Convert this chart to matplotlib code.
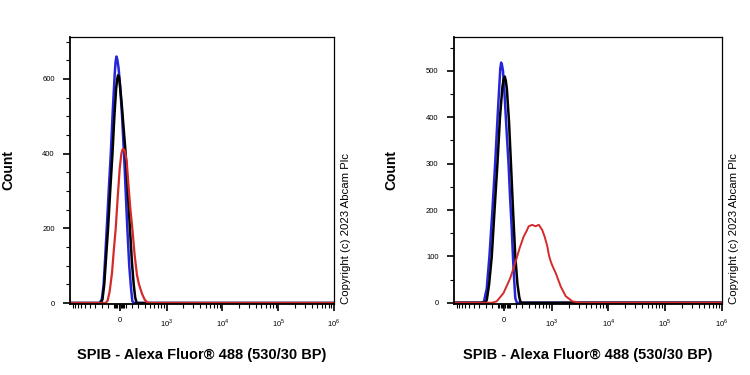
import matplotlib.pyplot as plt
from matplotlib.ticker import FixedLocator, NullFormatter

plt.rcParams['font.family'] = ['Liberation Sans', 'DejaVu Sans']
plt.rcParams['mathtext.fontset'] = 'custom'
plt.rcParams['mathtext.rm'] = 'Liberation Sans'

# ---- left panel data (fluorescence, count) ----
left_blue_x = [-1120, -330, -300, -270, -245, -218, -185, -150, -115, -85, -70, -55, -40,
               -20, 0, 40, 72, 100, 128, 160, 190, 212, 240, 1e6]
left_blue_y = [0, 0, 10, 50, 120, 200, 300, 400, 520, 610, 645, 660, 652,
               630, 595, 500, 400, 300, 200, 100, 40, 5, 0, 0]

left_black_x = [-1120, -310, -290, -260, -230, -196, -160, -122, -90, -60, -42, -28, -12, 0,
                30, 65, 100, 135, 172, 205, 235, 260, 285, 1e6]
left_black_y = [0, 0, 10, 50, 120, 200, 300, 400, 500, 575, 600, 610, 605, 590,
                540, 470, 400, 300, 200, 110, 50, 15, 0, 0]

left_red_x = [-1120, -240, -206, -170, -130, -100, -67, -35, 0, 28, 45, 61, 78, 90, 117,
              150, 180, 212, 250, 290, 318, 360, 400, 443, 500, 1e6]
left_red_y = [0, 0, 5, 30, 80, 140, 200, 280, 360, 400, 410, 413, 410, 405, 380,
              310, 250, 200, 130, 75, 50, 25, 10, 2, 0, 0]

# ---- right panel data ----
right_blue_x = [-1120, -360, -327, -290, -245, -200, -150, -110, -80, -65, -50, -35, -20, 10,
                40, 72, 100, 125, 145, 165, 184, 210, 1e6]
right_blue_y = [0, 0, 3, 30, 100, 190, 300, 400, 470, 505, 518, 512, 500, 440,
                370, 300, 220, 160, 100, 50, 10, 0, 0]

right_black_x = [-1120, -320, -290, -250, -206, -160, -112, -70, -30, -10, 10, 28, 45, 80,
                 112, 150, 184, 220, 250, 275, 1e6]
right_black_y = [0, 0, 5, 40, 100, 200, 300, 400, 465, 482, 488, 478, 460, 390,
                 300, 190, 100, 40, 12, 0, 0]

right_red_x = [-1120, -206, -123, -11, 100, 184, 256, 318, 355, 390, 448, 514, 589,
               675, 743, 830, 889, 950, 1020, 1170, 1435, 1760, 2310, 3260, 1e6]
right_red_y = [0, 0, 3, 21, 53, 86, 118, 143, 154, 165, 168, 165, 168,
               157, 143, 122, 102, 90, 80, 64, 35, 14, 3, 0, 0]

x_major = [0, 1e3, 1e4, 1e5, 1e6]
x_major_labels = ['0', r'$10^3$', r'$10^4$', r'$10^5$', r'$10^6$']

xlabel = 'SPIB - Alexa Fluor\u00ae 488 (530/30 BP)'
copyright_text = 'Copyright (c) 2023 Abcam Plc'

# minor tick positions along the x axis
x_minor = [-100, -80, -60, -40, -20, 20, 40, 60, 80, 100]
x_minor += [-v * 100 for v in range(2, 11)] + [v * 100 for v in range(2, 10)]
for dec in [1e3, 1e4, 1e5]:
    x_minor += [m * dec for m in range(2, 10)]

fig = plt.figure(figsize=(7.5, 3.75), dpi=100)
ax1 = fig.add_axes([0.0933, 0.189, 0.352, 0.712])
ax2 = fig.add_axes([0.605, 0.189, 0.357, 0.712])

blue = '#2626d9'
red = '#d42a2a'

ax1.plot(left_blue_x, left_blue_y, color=blue, lw=1.8)
ax1.plot(left_black_x, left_black_y, color='black', lw=1.8)
ax1.plot(left_red_x, left_red_y, color=red, lw=1.6)

ax2.plot(right_blue_x, right_blue_y, color=blue, lw=1.8)
ax2.plot(right_black_x, right_black_y, color='black', lw=1.8)
ax2.plot(right_red_x, right_red_y, color=red, lw=1.4)

for ax, ymax, ymajor in [(ax1, 712, [0, 200, 400, 600]),
                         (ax2, 573, [0, 100, 200, 300, 400, 500])]:
    ax.set_xscale('symlog', linthresh=300, linscale=0.288)
    ax.set_xlim(-1120, 1e6)
    ax.set_ylim(-3, ymax)
    ax.set_xticks(x_major)
    ax.set_xticklabels(x_major_labels)
    ax.xaxis.set_minor_locator(FixedLocator(x_minor))
    ax.xaxis.set_minor_formatter(NullFormatter())
    ax.set_yticks(ymajor)
    ax.yaxis.set_minor_locator(FixedLocator(list(range(50, int(ymax), 50))))
    ax.tick_params(axis='both', which='major', labelsize=5.5, length=5, width=1.2,
                   direction='out', pad=4)
    ax.tick_params(axis='y', which='major', pad=6)
    ax.tick_params(axis='both', which='minor', length=3, width=0.8, direction='out')
    for s in ax.spines.values():
        s.set_linewidth(0.9)
    ax.spines['left'].set_linewidth(1.3)
    ax.spines['bottom'].set_linewidth(1.3)
    ax.set_xlabel(xlabel, fontsize=10.5, fontweight='bold', labelpad=14)
    ax.text(1.045, 0.0, copyright_text, transform=ax.transAxes, rotation=90,
            fontsize=8.2, ha='center', va='bottom')

fig.text(8 / 750, 1 - 170 / 375, 'Count', rotation=90, fontsize=10, fontweight='bold',
         ha='center', va='center')
fig.text(391 / 750, 1 - 170 / 375, 'Count', rotation=90, fontsize=10, fontweight='bold',
         ha='center', va='center')

plt.savefig('out.png', dpi=100)
